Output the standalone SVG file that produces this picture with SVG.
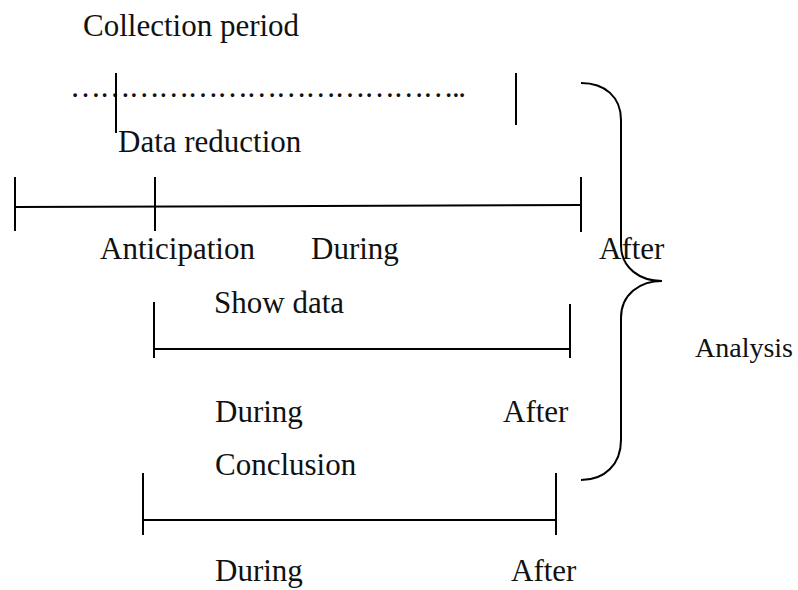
<svg xmlns="http://www.w3.org/2000/svg" width="798" height="590" viewBox="0 0 798 590">
<style>
text{font-family:"Liberation Serif","Times New Roman",serif;font-size:31px;fill:#111}
.ln{stroke:#000;stroke-width:2;fill:none}
</style>
<rect width="798" height="590" fill="#fff"/>
<g id="collection">
<text x="83" y="36">Collection period</text>
<text x="70" y="97" textLength="396" lengthAdjust="spacing">…………………………………..</text>
<line class="ln" x1="116" y1="73" x2="116" y2="133"/>
<line class="ln" x1="516" y1="73" x2="516" y2="125"/>
</g>
<g id="reduction">
<text x="118" y="152">Data reduction</text>
<line class="ln" x1="15" y1="207" x2="581" y2="205"/>
<line class="ln" x1="15" y1="177" x2="15" y2="231"/>
<line class="ln" x1="155" y1="177" x2="155" y2="231"/>
<line class="ln" x1="581" y1="177" x2="581" y2="232"/>
<text x="100" y="259">Anticipation</text>
<text x="311" y="259">During</text>
<text x="599" y="259">After</text>
</g>
<g id="showdata">
<text x="214" y="313">Show data</text>
<line class="ln" x1="154" y1="349" x2="570" y2="349"/>
<line class="ln" x1="154" y1="302" x2="154" y2="358"/>
<line class="ln" x1="570" y1="304" x2="570" y2="358"/>
<text x="215" y="422">During</text>
<text x="503" y="422">After</text>
</g>
<g id="conclusion">
<text x="215" y="475">Conclusion</text>
<line class="ln" x1="143" y1="520" x2="556" y2="520"/>
<line class="ln" x1="143" y1="473" x2="143" y2="535"/>
<line class="ln" x1="556" y1="473" x2="556" y2="535"/>
<text x="215" y="581">During</text>
<text x="511" y="581">After</text>
</g>
<g id="connectors">
<path class="ln" d="M581,83 C605,83 621,97 621,120 L621,245 C621,268 640,281 662,281 C640,281 621,294 621,318 L621,440 C621,464 605,480 581,480"/>
</g>
<g id="analysis">
<text x="695" y="357" style="font-size:28px">Analysis</text>
</g>
</svg>
